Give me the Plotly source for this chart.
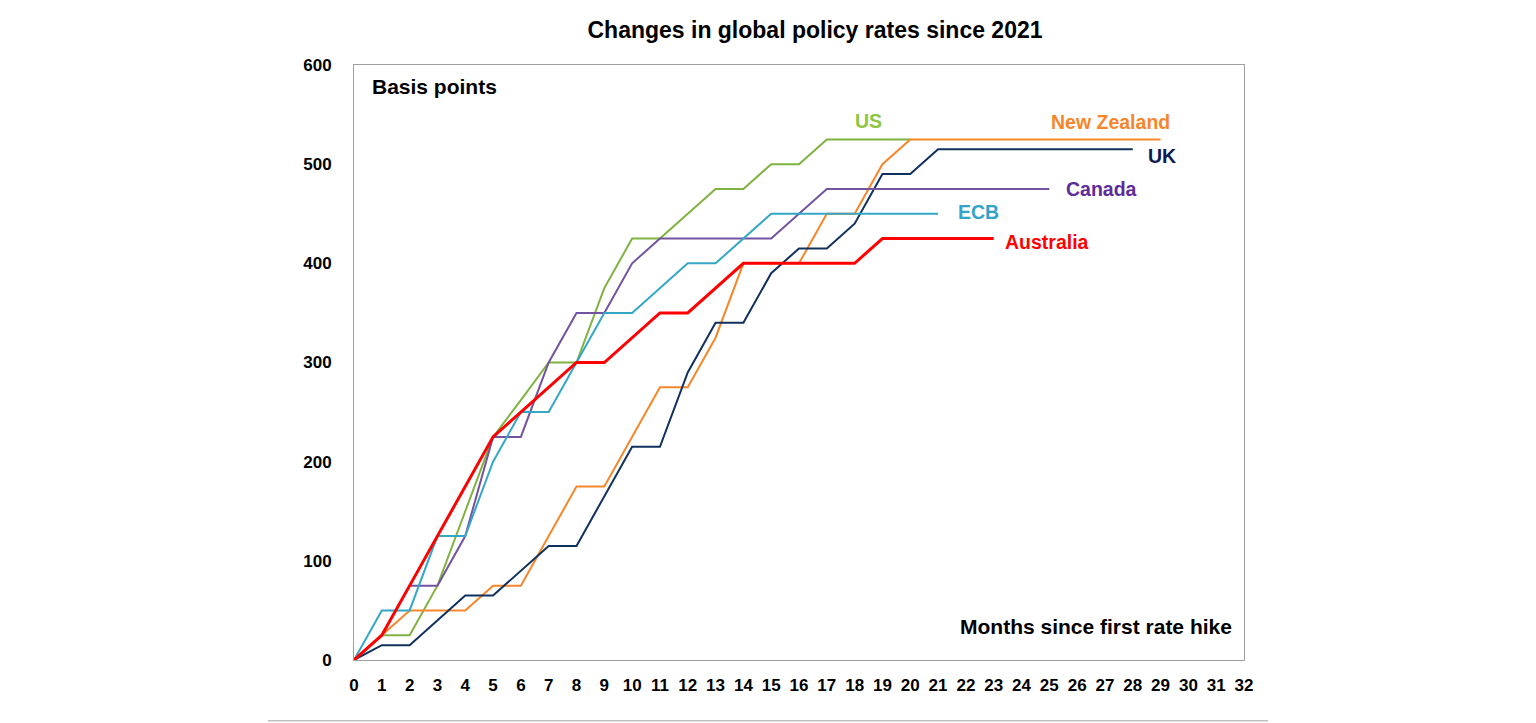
import plotly.graph_objects as go

months_us = list(range(0, 21))
us = [0, 25, 25, 75, 150, 225, 262, 300, 300, 375, 425, 425, 450, 475, 475, 500, 500, 525, 525, 525, 525]

months_nz = list(range(0, 30))
nz = [0, 25, 50, 50, 50, 75, 75, 125, 175, 175, 225, 275, 275, 325, 400, 400, 400, 450, 450, 500,
      525, 525, 525, 525, 525, 525, 525, 525, 525, 525]

months_uk = list(range(0, 29))
uk = [0, 15, 15, 40, 65, 65, 90, 115, 115, 165, 215, 215, 290, 340, 340, 390, 415, 415, 440, 490,
      490, 515, 515, 515, 515, 515, 515, 515, 515]

months_ca = list(range(0, 26))
ca = [0, 25, 75, 75, 125, 225, 225, 300, 350, 350, 400, 425, 425, 425, 425, 425, 450, 475, 475, 475,
      475, 475, 475, 475, 475, 475]

months_ecb = list(range(0, 22))
ecb = [0, 50, 50, 125, 125, 200, 250, 250, 300, 350, 350, 375, 400, 400, 425, 450, 450, 450, 450, 450,
       450, 450]

months_au = list(range(0, 24))
au = [0, 25, 75, 125, 175, 225, 250, 275, 300, 300, 325, 350, 350, 375, 400, 400, 400, 400, 400, 425,
      425, 425, 425, 425]

x_ticks = list(range(0, 33))
y_ticks = [0, 100, 200, 300, 400, 500, 600]

series = [
    ("US", months_us, us, "#7FB241", 2),
    ("New Zealand", months_nz, nz, "#F7862A", 2),
    ("UK", months_uk, uk, "#10305E", 2),
    ("Canada", months_ca, ca, "#7353A0", 2),
    ("ECB", months_ecb, ecb, "#34A7C6", 2),
    ("Australia", months_au, au, "#FF0000", 3),
]

fig = go.Figure()
for name, xs, ys, col, w in series:
    fig.add_trace(go.Scatter(x=xs, y=ys, mode="lines", name=name,
                             line=dict(color=col, width=w), hoverinfo="x+y+name"))

labels = [
    ("US", 18.0, 544, "#8CC63F"),
    ("New Zealand", 25.07, 543, "#F7862A"),
    ("UK", 28.56, 508, "#0D1B4F"),
    ("Canada", 25.6, 475, "#5B2C9A"),
    ("ECB", 21.73, 452, "#34A3C9"),
    ("Australia", 23.42, 422, "#FF0000"),
]
for txt, lx, ly, col in labels:
    fig.add_annotation(x=lx, y=ly, text=txt, showarrow=False, xanchor="left", yanchor="middle",
                       xshift=-2,
                       font=dict(family="Liberation Sans", size=19.5, color=col, weight="bold"))

fig.add_annotation(x=0.65, y=578, text="Basis points", showarrow=False, xanchor="left", yanchor="middle",
                   xshift=-2,
                   font=dict(family="Liberation Sans", size=21, color="black", weight="bold"))
fig.add_annotation(x=31.58, y=34, text="Months since first rate hike", showarrow=False,
                   xanchor="right", yanchor="middle", xshift=2,
                   font=dict(family="Liberation Sans", size=21, color="black", weight="bold"))

fig.add_shape(type="line", xref="paper", yref="paper", x0=-0.0966, x1=1.027, y0=-0.102, y1=-0.102,
              line=dict(color="#BFBFBF", width=1.5))

fig.update_layout(
    width=1528, height=715,
    margin=dict(l=346, r=292, t=57, b=63),
    paper_bgcolor="white", plot_bgcolor="white",
    showlegend=False,
    title=dict(text="Changes in global policy rates since 2021", x=(815 - 8) / 1528, xanchor="center",
               y=1 - 22 / 715, yanchor="middle",
               font=dict(family="Liberation Sans", size=23, color="black", weight="bold")),
    xaxis=dict(range=[0, 32], tickvals=x_ticks, ticktext=[str(v) for v in x_ticks],
               showgrid=False, zeroline=False, showline=True, mirror=True,
               linecolor="#A0A0A0", linewidth=1, ticks="", ticklabelstandoff=10,
               tickfont=dict(family="Liberation Sans", size=17, color="black", weight="bold")),
    yaxis=dict(range=[0, 600], tickvals=y_ticks, ticktext=[str(v) for v in y_ticks],
               showgrid=False, zeroline=False, showline=True, mirror=True,
               linecolor="#A0A0A0", linewidth=1, ticks="", ticklabelstandoff=18,
               tickfont=dict(family="Liberation Sans", size=17, color="black", weight="bold")),
)

fig.write_html("out.html")
